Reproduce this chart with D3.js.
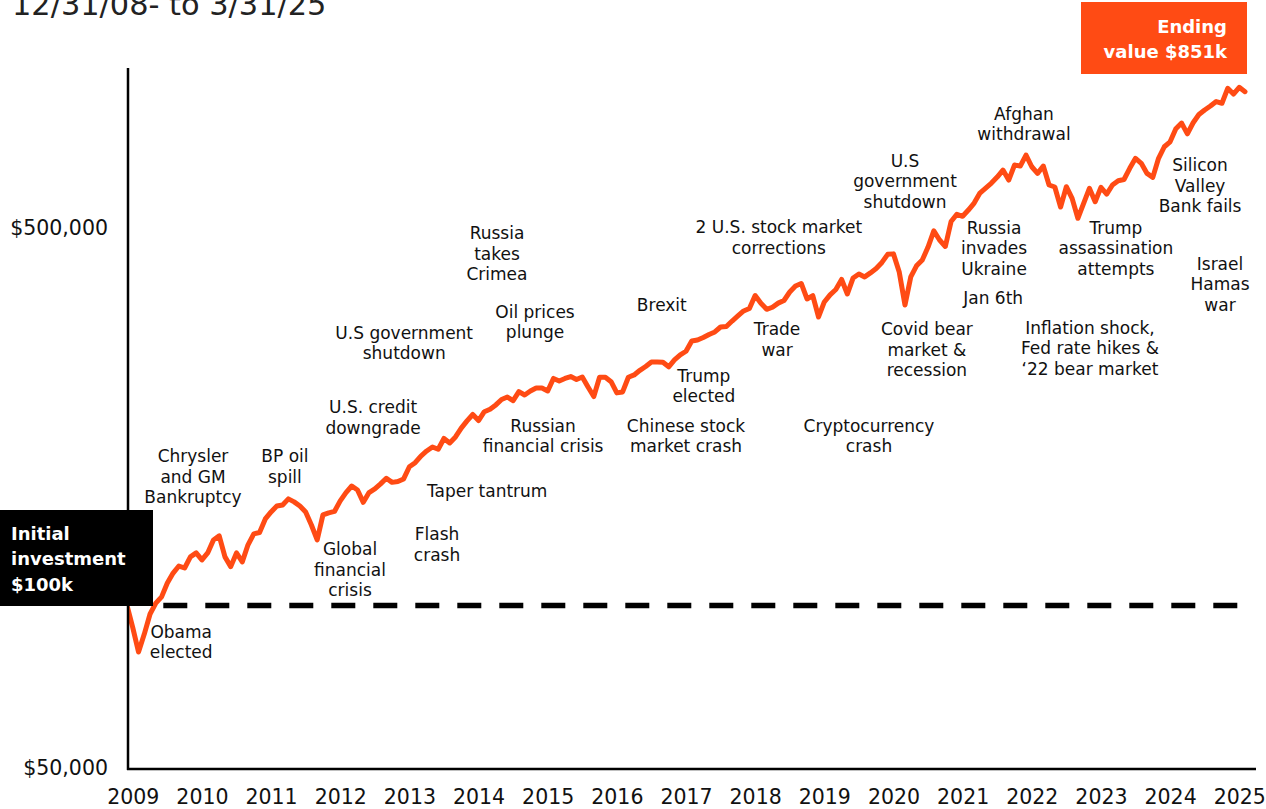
<!DOCTYPE html>
<html>
<head>
<meta charset="utf-8">
<script src="https://cdn.jsdelivr.net/npm/d3@7"></script>
<style>
	body { margin: 0; background: #fff; }
	svg { display: block; font-family: "DejaVu Sans", sans-serif; }
</style>
</head>
<body>
<div id="canvas"></div>
<script>
// portfolio value in $k, month ends from Dec 2008 to Feb 2025
var values = [
	100, // Dec 2008
	91, 82, 88.5, 96.4, 101, 103.7, 110, 114.8, 118.3, 117.3, 123, 125.1, // 2009
	121.4, 125.1, 132.2, 134.5, 123, 118, 125.1, 120.4, 129.5, 135.7, 136.5, 144.6, // 2010
	149, 152.8, 153.5, 157.5, 155.5, 152.8, 149, 140.9, 132.2, 147.1, 148.4, 149.3, // 2011
	156.2, 161.8, 166.4, 163.6, 155.2, 161.8, 164.3, 167.9, 172, 169, 169.6, 171.5, // 2012
	180.6, 183.8, 189.1, 193.2, 196.5, 194.6, 203.8, 199.9, 205.1, 213, 219.6, 225.7, // 2013
	220, 228.4, 230.8, 235.1, 240.6, 243.2, 239.4, 248.8, 245.3, 249.5, 252.7, 252.7, // 2014
	249.5, 263.2, 260.4, 263.2, 265.4, 262.1, 264.9, 253.8, 243.7, 264.6, 264.6, 259.6, // 2015
	247.5, 248.5, 264.6, 267.2, 272.5, 277, 282.4, 282.4, 282, 276.6, 284.8, 291, // 2016
	295.6, 308.8, 310.1, 313.4, 317.5, 320.9, 327.8, 328.5, 336.2, 343.6, 351, 354.8, // 2017
	374.9, 362.7, 353.5, 356.6, 362.9, 367, 380.5, 390.4, 394.6, 369.4, 374.6, 342.1, // 2018
	364.7, 376, 384.6, 401.4, 377.3, 404, 411, 405.8, 412.8, 420.6, 431.7, 446.8, // 2019
	447.7, 414.4, 360, 405.8, 425.5, 436.1, 460.9, 493.9, 474.9, 462.1, 513.9, 530, // 2020
	525.5, 539.7, 556, 580.3, 592.8, 605.6, 621.2, 640, 613.3, 653.8, 651, 682.3, // 2021
	649.1, 631, 651, 600.5, 595.4, 546.6, 596.2, 567.3, 521, 555.3, 592.1, 559.1, // 2022
	594.6, 577.8, 600.5, 611.5, 614.8, 644.7, 672.8, 658.6, 631, 620.4, 672.8, 706.9, // 2023
	722, 763, 782, 747, 783, 811, 827, 841, 857, 851, 907, 885, // 2024
	911, 894 // 2025
];

var years = d3.range(2009, 2026);
var yTicks = [50, 500];
var initialValue = 100;

var title = '12/31/08- to 3/31/25';
var initialText = ['Initial', 'investment', '$100k'];
var endingText = ['Ending', 'value $851k'];

// event notes: month index (0 = Dec 2008) and value ($k) of the first line
var notes = [
	{ lines: ['Chrysler', 'and GM', 'Bankruptcy'], m: 11.45, v: 189 },
	{ lines: ['BP oil', 'spill'], m: 27.4, v: 189 },
	{ lines: ['Obama', 'elected'], m: 9.4, v: 89.3 },
	{ lines: ['Global', 'financial', 'crisis'], m: 38.7, v: 127.2 },
	{ lines: ['U.S. credit', 'downgrade'], m: 42.7, v: 233 },
	{ lines: ['U.S government', 'shutdown'], m: 48.1, v: 319.6 },
	{ lines: ['Flash', 'crash'], m: 53.8, v: 135.6 },
	{ lines: ['Taper tantrum'], m: 62.5, v: 162.9 },
	{ lines: ['Russia', 'takes', 'Crimea'], m: 64.2, v: 489 },
	{ lines: ['Oil prices', 'plunge'], m: 70.8, v: 349.5 },
	{ lines: ['Russian', 'financial crisis'], m: 72.2, v: 215 },
	{ lines: ['Brexit'], m: 92.8, v: 360 },
	{ lines: ['Chinese stock', 'market crash'], m: 97, v: 215 },
	{ lines: ['Trump', 'elected'], m: 100.1, v: 266 },
	{ lines: ['2 U.S. stock market', 'corrections'], m: 113.1, v: 502 },
	{ lines: ['Trade', 'war'], m: 112.8, v: 325 },
	{ lines: ['Cryptocurrency', 'crash'], m: 128.75, v: 215 },
	{ lines: ['Covid bear', 'market &', 'recession'], m: 138.8, v: 325 },
	{ lines: ['U.S', 'government', 'shutdown'], m: 135, v: 665.6 },
	{ lines: ['Afghan', 'withdrawal'], m: 155.65, v: 813 },
	{ lines: ['Russia', 'invades', 'Ukraine'], m: 150.45, v: 500 },
	{ lines: ['Jan 6th'], m: 150.3, v: 371 },
	{ lines: ['Inflation shock,', 'Fed rate hikes &', '\u201822 bear market'], m: 167.1, v: 326.5 },
	{ lines: ['Trump', 'assassination', 'attempts'], m: 171.6, v: 500 },
	{ lines: ['Silicon', 'Valley', 'Bank fails'], m: 186.2, v: 654 },
	{ lines: ['Israel', 'Hamas', 'war'], m: 189.66, v: 428.9 }
];

document.addEventListener('DOMContentLoaded', function() {

	var width = 1266,
		height = 809,
		orange = '#ff4b14',
		ink = '#111';

	var svg = d3.select('#canvas').append('svg')
		.attr('width', width)
		.attr('height', height);

	var x = d3.scaleLinear().domain([0, values.length - 1]).range([127, 1245]);
	var y = d3.scaleLog().domain([50, 1000]).range([768, 65.4]);

	// keep the line right of the value axis
	svg.append('clipPath')
		.attr('id', 'plot-clip')
		.append('rect')
		.attr('x', 129).attr('y', 0)
		.attr('width', width - 129).attr('height', height);

	// title, cut off by the top edge
	svg.append('text')
		.attr('x', 12)
		.attr('y', 15)
		.attr('font-size', 30.4)
		.attr('fill', '#222')
		.text(title);

	// initial investment reference
	svg.append('line')
		.attr('x1', 152).attr('x2', 1238)
		.attr('y1', y(initialValue)).attr('y2', y(initialValue))
		.attr('stroke', '#000')
		.attr('stroke-width', 5.5)
		.attr('stroke-dasharray', '24,18')
		.attr('stroke-dashoffset', 30.7);

	// value line
	var line = d3.line()
		.x(function(d, i) { return x(i); })
		.y(function(d) { return y(d); });

	svg.append('path')
		.datum(values)
		.attr('d', line)
		.attr('clip-path', 'url(#plot-clip)')
		.attr('fill', 'none')
		.attr('stroke', orange)
		.attr('stroke-width', 5)
		.attr('stroke-linejoin', 'round')
		.attr('stroke-linecap', 'round');

	// axes
	svg.append('line')
		.attr('x1', 128).attr('x2', 128)
		.attr('y1', 68).attr('y2', 770)
		.attr('stroke', '#000').attr('stroke-width', 2.5);
	svg.append('line')
		.attr('x1', 127).attr('x2', 1256)
		.attr('y1', 769).attr('y2', 769)
		.attr('stroke', '#000').attr('stroke-width', 2.5);

	var yAxis = svg.append('g')
		.attr('transform', 'translate(128,0)')
		.call(d3.axisLeft(y)
			.tickValues(yTicks)
			.tickSize(0)
			.tickPadding(20)
			.tickFormat(function(d) { return '$' + d3.format(',')(d * 1000); }));
	yAxis.select('.domain').remove();
	yAxis.selectAll('text')
		.attr('font-family', '"DejaVu Sans", sans-serif')
		.attr('font-size', 20.5)
		.attr('fill', ink);

	var xAxis = svg.append('g')
		.attr('transform', 'translate(0,769)')
		.call(d3.axisBottom(x)
			.tickValues(years.map(function(yr) { return (yr - 2009) * 12 + 1; }))
			.tickSize(0)
			.tickPadding(20)
			.tickFormat(function(d, i) { return years[i]; }));
	xAxis.select('.domain').remove();
	xAxis.selectAll('text')
		.attr('font-family', '"DejaVu Sans", sans-serif')
		.attr('font-size', 20.5)
		.attr('fill', ink);

	// event notes
	var note = svg.append('g')
		.selectAll('text')
		.data(notes)
		.enter()
		.append('text')
		.attr('text-anchor', 'middle')
		.attr('font-size', 17)
		.attr('fill', ink)
		.attr('transform', function(d) { return 'translate(' + x(d.m) + ',' + y(d.v) + ')'; });

	note.selectAll('tspan')
		.data(function(d) { return d.lines; })
		.enter()
		.append('tspan')
		.attr('x', 0)
		.attr('y', function(d, i) { return i * 20.4; })
		.attr('dy', '0.36em')
		.text(function(d) { return d; });

	// initial investment box
	svg.append('rect')
		.attr('x', 0).attr('y', 510)
		.attr('width', 153).attr('height', 96)
		.attr('fill', '#000');
	svg.append('text')
		.attr('font-size', 18)
		.attr('font-weight', 'bold')
		.attr('fill', '#fff')
		.selectAll('tspan')
		.data(initialText)
		.enter()
		.append('tspan')
		.attr('x', 11)
		.attr('y', function(d, i) { return 540 + i * 25.3; })
		.text(function(d) { return d; });

	// ending value box
	svg.append('rect')
		.attr('x', 1081).attr('y', 2)
		.attr('width', 166).attr('height', 72)
		.attr('fill', orange);
	svg.append('text')
		.attr('font-size', 18)
		.attr('font-weight', 'bold')
		.attr('fill', '#fff')
		.attr('text-anchor', 'end')
		.selectAll('tspan')
		.data(endingText)
		.enter()
		.append('tspan')
		.attr('x', 1227)
		.attr('y', function(d, i) { return 33 + i * 25; })
		.text(function(d) { return d; });

});
</script>
</body>
</html>
